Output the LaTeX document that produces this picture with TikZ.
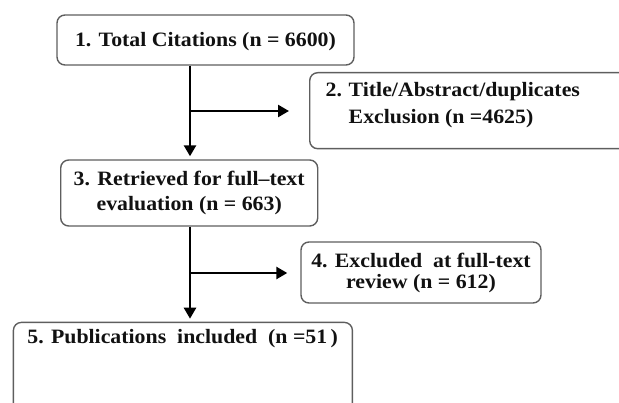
\documentclass[tikz,border=0pt]{standalone}
\usepackage{fontspec}
\setmainfont[FakeStretch=1.07]{Liberation Serif}
\usetikzlibrary{arrows.meta}
\definecolor{boxgray}{HTML}{5E5E5E}
\definecolor{inkblack}{HTML}{111111}
\begin{document}
\begin{tikzpicture}[x=1pt,y=-1pt,
  box/.style={draw=boxgray, line width=1.4pt, rounded corners=8pt, inner sep=0pt,
    text=inkblack, font=\fontsize{20.4}{25.5}\selectfont\bfseries},
  ln/.style={line width=2.5pt, draw=black},
  arr/.style={ln, -{Triangle[length=11pt,width=12pt]}}]
\useasboundingbox (0,0) rectangle (619,403);
\clip (0,0) rectangle (619,403);
% boxes
\node[box, minimum width=297pt, minimum height=50pt, text height=16.5pt, text depth=3.5pt]
  (b1) at (205.5,40) {1. Total Citations (n = 6600)};
\node[box, anchor=north west, inner xsep=16pt, text height=24pt, text depth=52pt,
  font=\fontsize{20.4}{27}\selectfont\bfseries]
  (b2) at (309,72) {\parbox[t]{310pt}{\raggedright\makebox[23pt][l]{2.}Title/Abstract/duplicates\\
  \hspace*{23pt}Exclusion\ (n =4625)}};
\node[box, minimum width=257pt, minimum height=66pt, align=center]
  (b3) at (189.2,193) {3. Retrieved for full--text\\evaluation (n = 663)};
\node[box, minimum width=240pt, minimum height=61pt, align=center,
  font=\fontsize{20.4}{21}\selectfont\bfseries]
  (b4) at (421,272.5) {4. Excluded\ \ at full-text\\review (n = 612)};
\node[box, anchor=north west, inner xsep=14pt, text height=21.3pt, text depth=90pt]
  (b5) at (12.7,321.7) {\parbox[t]{311pt}{5. Publications\ \ included\ \ (n =51\,)}};
% connectors
\coordinate (v1) at (190,111);
\coordinate (v2) at (190,273);
\draw[arr, shorten >=3pt] (b1.south -| v1) -- (b3.north -| v1);
\draw[arr, shorten >=20pt] (v1) -- (v1 -| b2.west);
\draw[arr, shorten >=3pt] (b3.south -| v2) -- (b5.north -| v2);
\draw[arr, shorten >=13pt] (v2) -- (v2 -| b4.west);
\end{tikzpicture}
\end{document}
